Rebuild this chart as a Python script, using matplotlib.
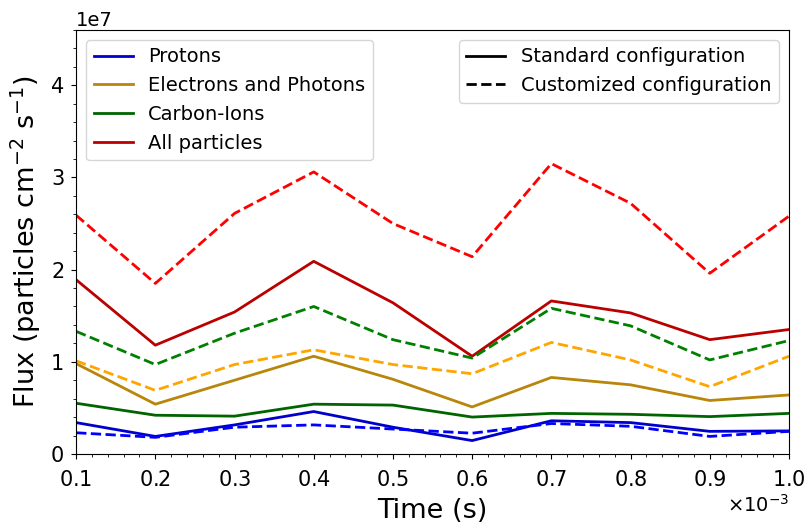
#!/usr/bin/env python3
import numpy as np
import matplotlib
matplotlib.use("Agg")
import matplotlib.pyplot as plt
from matplotlib.lines import Line2D

# Time points (s)
time = np.array([0.1, 0.2, 0.3, 0.4, 0.5, 0.6, 0.7, 0.8, 0.9, 1.0]) * 1e-3

# Standard configuration fluxes (particles cm^-2 s^-1)
protons_std = np.array([0.34, 0.19, 0.315, 0.46, 0.29, 0.145, 0.36, 0.34, 0.245, 0.25]) * 1e7
electrons_std = np.array([0.98, 0.54, 0.80, 1.06, 0.81, 0.51, 0.83, 0.75, 0.58, 0.64]) * 1e7
carbon_std = np.array([0.55, 0.42, 0.41, 0.54, 0.53, 0.40, 0.44, 0.43, 0.405, 0.44]) * 1e7
all_std = np.array([1.89, 1.18, 1.54, 2.09, 1.64, 1.06, 1.66, 1.53, 1.24, 1.35]) * 1e7

# Customized configuration fluxes
protons_cus = np.array([0.23, 0.18, 0.29, 0.315, 0.27, 0.225, 0.33, 0.30, 0.19, 0.245]) * 1e7
electrons_cus = np.array([1.01, 0.69, 0.97, 1.13, 0.97, 0.87, 1.21, 1.02, 0.73, 1.06]) * 1e7
carbon_cus = np.array([1.33, 0.97, 1.31, 1.60, 1.24, 1.04, 1.58, 1.39, 1.02, 1.23]) * 1e7
all_cus = np.array([2.59, 1.85, 2.61, 3.06, 2.50, 2.14, 3.15, 2.72, 1.96, 2.58]) * 1e7

labels = ["Protons", "Electrons and Photons", "Carbon-Ions", "All particles"]
std_colors = ["mediumblue", "darkgoldenrod", "darkgreen", "#bb0000"]
cus_colors = ["blue", "orange", "green", "red"]

fig, ax = plt.subplots(figsize=(8.1, 5.26), dpi=100)
fig.subplots_adjust(left=0.094, right=0.974, top=0.943, bottom=0.137)

std_series = [protons_std, electrons_std, carbon_std, all_std]
cus_series = [protons_cus, electrons_cus, carbon_cus, all_cus]

for y, c in zip(std_series, std_colors):
    ax.plot(time, y, color=c, linestyle="-", linewidth=2)
for y, c in zip(cus_series, cus_colors):
    ax.plot(time, y, color=c, linestyle="--", linewidth=2)

ax.set_xlim(0.1e-3, 1.0e-3)
ax.set_ylim(0, 4.6e7)
ax.set_xticks(time)
ax.minorticks_on()
ax.ticklabel_format(axis="x", style="sci", scilimits=(0, 0), useMathText=True)
ax.tick_params(labelsize=15)
ax.tick_params(axis="x", which="major", pad=8)
ax.tick_params(axis="y", which="major", pad=5)
ax.xaxis.get_offset_text().set_fontsize(14)
ax.yaxis.get_offset_text().set_fontsize(14)

ax.set_xlabel("Time (s)", fontsize=19.5, labelpad=6)
ax.set_ylabel(r"Flux (particles cm$^{-2}$ s$^{-1}$)", fontsize=19.5, labelpad=6)

# Legend for particle types (colors)
color_handles = [Line2D([0], [0], color=c, linewidth=2) for c in std_colors]
leg1 = ax.legend(color_handles, labels, loc="upper left", fontsize=14)
ax.add_artist(leg1)

# Legend for configuration (line style)
style_handles = [Line2D([0], [0], color="black", linestyle="-", linewidth=2),
                 Line2D([0], [0], color="black", linestyle="--", linewidth=2)]
ax.legend(style_handles, ["Standard configuration", "Customized configuration"],
          loc="upper right", fontsize=14)

plt.savefig("out.png", dpi=100)
